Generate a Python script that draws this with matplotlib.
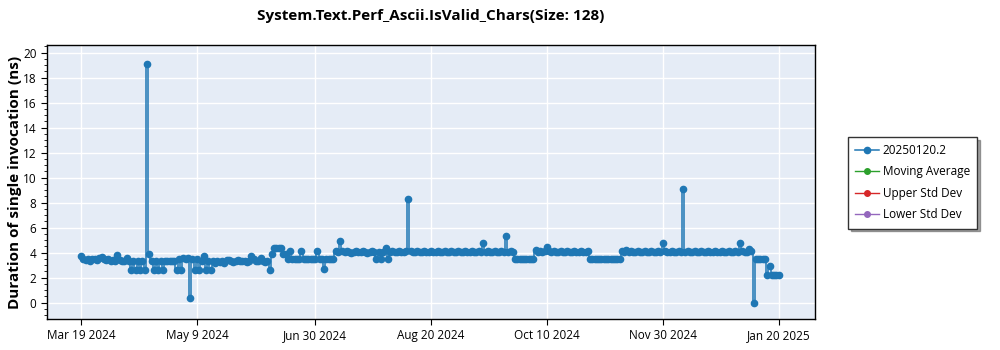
import matplotlib
matplotlib.use("Agg")
import matplotlib.pyplot as plt
from matplotlib.ticker import MultipleLocator
import pandas as pd

# Benchmark results, one sample per day from Mar 19 2024 to Jan 20 2025
start_date = "2024-03-19"
sample_step = "D"
durations_ns = [
    3.75, 3.45, 3.4, 3.5, 3.35, 3.45, 3.5, 3.4, 3.6, 3.65,
    3.5, 3.4, 3.45, 3.35, 3.4, 3.35, 3.8, 3.4, 3.35, 3.3,
    3.6, 3.35, 2.6, 3.3, 2.6, 3.3, 2.6, 3.35, 2.6, 19.1,
    3.85, 3.3, 2.6, 3.3, 2.6, 3.3, 2.6, 3.3, 3.35, 3.3,
    3.3, 3.35, 2.6, 3.5, 2.6, 3.55, 3.5, 3.55, 0.4, 3.5,
    2.6, 3.5, 2.6, 3.3, 3.7, 2.6, 3.3, 2.6, 3.3, 3.2,
    3.3, 3.25, 3.3, 3.2, 3.4, 3.4, 3.3, 3.25, 3.3, 3.4,
    3.3, 3.35, 3.3, 3.25, 3.3, 3.75, 3.45, 3.3, 3.35, 3.55,
    3.3, 3.25, 3.3, 2.6, 3.85, 4.35, 4.35, 4.35, 4.35, 3.85,
    3.85, 3.5, 4.1, 3.5, 3.5, 3.5, 3.5, 4.1, 3.5, 3.5,
    3.5, 3.5, 3.5, 3.5, 4.1, 3.5, 3.5, 2.7, 3.5, 3.5,
    3.5, 3.5, 4.1, 4.05, 4.9, 4.1, 4.05, 4.1, 4.05, 4.0,
    4.05, 4.1, 4.05, 4.05, 4.1, 4.05, 4.0, 4.05, 4.1, 4.05,
    3.5, 4.05, 3.5, 4.05, 4.4, 3.5, 4.05, 4.1, 4.05, 4.05,
    4.1, 4.05, 4.05, 4.1, 8.3, 4.1, 4.05, 4.05, 4.1, 4.05,
    4.05, 4.1, 4.05, 4.05, 4.1, 4.05, 4.05, 4.1, 4.05, 4.05,
    4.1, 4.05, 4.05, 4.1, 4.05, 4.05, 4.1, 4.05, 4.05, 4.1,
    4.05, 4.05, 4.1, 4.05, 4.05, 4.1, 4.05, 4.8, 4.05, 4.1,
    4.05, 4.05, 4.1, 4.05, 4.05, 4.1, 4.05, 5.3, 4.05, 4.1,
    4.05, 3.5, 3.5, 3.5, 3.5, 3.5, 3.5, 3.5, 3.5, 3.5,
    4.2, 4.05, 4.1, 4.05, 4.1, 4.45, 4.1, 4.05, 4.1, 4.05,
    4.05, 4.1, 4.05, 4.05, 4.1, 4.05, 4.05, 4.1, 4.05, 4.05,
    4.1, 4.05, 4.05, 4.1, 3.5, 3.5, 3.5, 3.5, 3.5, 3.5,
    3.5, 3.5, 3.5, 3.5, 3.5, 3.5, 3.5, 3.5, 4.1, 4.05,
    4.2, 4.05, 4.1, 4.05, 4.05, 4.1, 4.05, 4.05, 4.1, 4.05,
    4.05, 4.1, 4.05, 4.05, 4.1, 4.05, 4.8, 4.1, 4.05, 4.05,
    4.1, 4.05, 4.05, 4.1, 4.05, 9.1, 4.05, 4.1, 4.05, 4.05,
    4.1, 4.05, 4.05, 4.1, 4.05, 4.05, 4.1, 4.05, 4.05, 4.1,
    4.05, 4.05, 4.1, 4.05, 4.05, 4.1, 4.05, 4.05, 4.1, 4.05,
    4.8, 4.1, 4.05, 4.05, 4.3, 4.1, 0.0, 3.5, 3.5, 3.5,
    3.5, 3.5, 2.2, 2.95, 2.2, 2.2, 2.2, 2.2,
]

series_label = "20250120.2"
empty_series = ["Moving Average", "Upper Std Dev", "Lower Std Dev"]
empty_colors = ["#2ca02c", "#d62728", "#9467bd"]
x_ticks = ["2024-03-19", "2024-05-09", "2024-06-30", "2024-08-20",
           "2024-10-10", "2024-11-30", "2025-01-20"]

title = "System.Text.Perf_Ascii.IsValid_Chars(Size: 128)"
y_label = "Duration of single invocation (ns)"

plt.rcParams["font.family"] = ["Open Sans", "DejaVu Sans"]

dates = pd.date_range(start_date, periods=len(durations_ns), freq=sample_step)

fig = plt.figure(figsize=(10, 3.5), dpi=100)
ax = fig.add_axes([0.047, 0.089, 0.768, 0.782])
ax.set_facecolor("#e5ecf6")

# main series, steps give the vertical spikes seen in the dense original
ax.plot(dates, durations_ns, color="#1f77b4", marker="o", markersize=4.5,
        linewidth=1.1, drawstyle="steps-mid", label=series_label, zorder=3)
for name, col in zip(empty_series, empty_colors):
    ax.plot([], [], color=col, marker="o", markersize=4, linewidth=1.0, label=name)

# axes ranges and ticks
ax.set_xlim(pd.Timestamp("2024-03-04"), pd.Timestamp("2025-02-05"))
ax.set_ylim(-1.3, 20.6)
ax.yaxis.set_major_locator(MultipleLocator(2))
ax.yaxis.set_minor_locator(MultipleLocator(0.5))
tick_dates = pd.to_datetime(x_ticks)
ax.set_xticks(tick_dates)
ax.set_xticklabels([d.strftime("%b %d %Y").replace(" 0", " ") for d in tick_dates])
ax.tick_params(axis="both", labelsize=8.5, direction="out", length=4, color="black")
ax.tick_params(axis="y", which="minor", length=2.5)
ax.grid(True, color="white", linewidth=1.0)
ax.set_axisbelow(True)
for sp in ax.spines.values():
    sp.set_color("black")
    sp.set_linewidth(1.0)

ax.set_title(title, fontsize=11, fontweight="bold", pad=18)
ax.set_ylabel(y_label, fontsize=11, fontweight="bold", labelpad=1)

leg = fig.legend(loc="upper left", bbox_to_anchor=(0.848, 0.609), fontsize=8.5,
                 frameon=True, fancybox=False, shadow=True, borderaxespad=0,
                 handlelength=2.0, handletextpad=0.35, borderpad=0.6,
                 labelspacing=0.72)
leg.get_frame().set_edgecolor("#333333")
leg.get_frame().set_linewidth(1.0)

fig.savefig("out.png", dpi=100)
plt.close(fig)
